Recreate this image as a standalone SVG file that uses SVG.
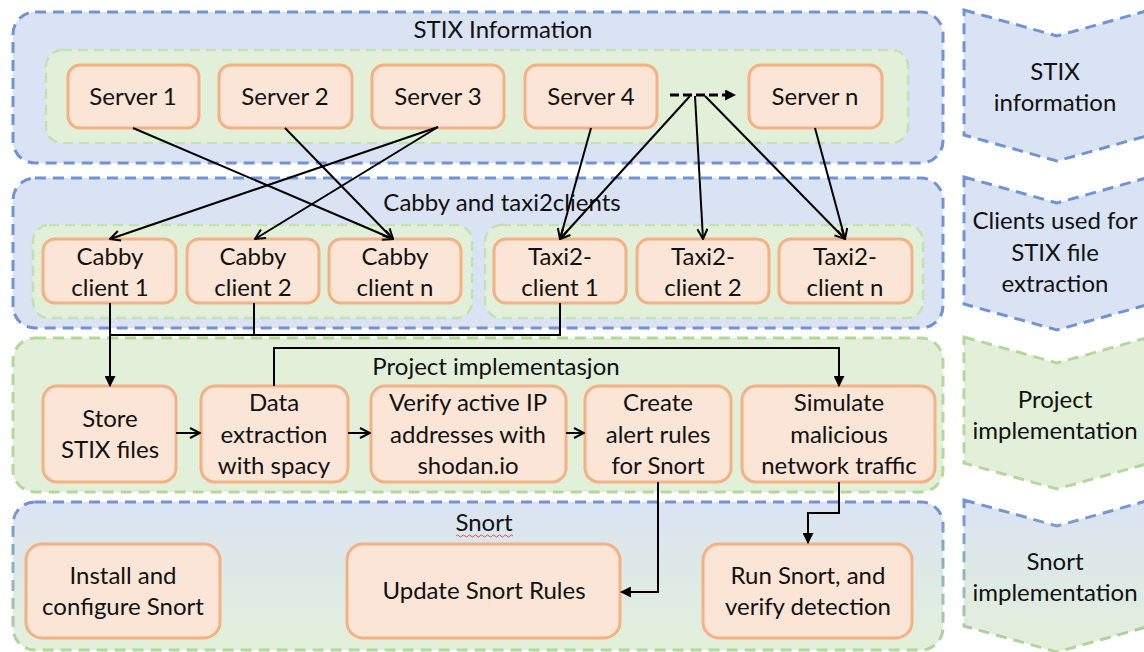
<svg xmlns="http://www.w3.org/2000/svg" width="1144" height="652" viewBox="0 0 1144 652">
<defs>
<style>
.t{font-family:Lato,"Open Sans","Liberation Sans",sans-serif;font-size:24px;fill:#111;text-anchor:middle}
.blue{fill:#dae3f3;stroke:#6f93d6;stroke-width:3;stroke-dasharray:11 7}
.green{fill:#e2f0d9;stroke:#b5d79c;stroke-width:3;stroke-dasharray:11 7}
.ing{fill:#e2f0d9;stroke:#c5e0b4;stroke-width:2.5;stroke-dasharray:10 6}
.node{fill:#fbe5d6;stroke:#f4b183;stroke-width:3}
.ln{fill:none;stroke:#000;stroke-width:2}
</style>
<linearGradient id="gfill" x1="0" y1="0" x2="0" y2="1">
<stop offset="0" stop-color="#dae3f3"/><stop offset="1" stop-color="#e2f0d9"/>
</linearGradient>
<linearGradient id="gstroke" x1="0" y1="0" x2="0" y2="1">
<stop offset="0" stop-color="#6f93d6"/><stop offset="1" stop-color="#b5d79c"/>
</linearGradient>
<marker id="open" viewBox="0 0 12 12" refX="11" refY="6" markerWidth="12" markerHeight="12" markerUnits="userSpaceOnUse" orient="auto">
<path d="M1,1 L11,6 L1,11" fill="none" stroke="#000" stroke-width="2"/>
</marker>
<marker id="tri" viewBox="0 0 10 10" refX="9" refY="5" markerWidth="11" markerHeight="11" markerUnits="userSpaceOnUse" orient="auto">
<path d="M0,0 L10,5 L0,10 z" fill="#000"/>
</marker>
</defs>
<rect width="1144" height="652" fill="#fff"/>

<!-- containers -->
<g id="stix-info">
<rect class="blue" x="13" y="12" width="930" height="151" rx="22"/>
<rect class="ing" x="46" y="50" width="862" height="93" rx="16"/>
<text class="t" x="503" y="38">STIX Information</text>
</g>
<g id="cabby-taxi">
<rect class="blue" x="13" y="178" width="930" height="150" rx="22"/>
<rect class="ing" x="33" y="225" width="439" height="93" rx="16"/>
<rect class="ing" x="485" y="225" width="438" height="93" rx="16"/>
<text class="t" x="502" y="211">Cabby and taxi2clients</text>
</g>
<g id="project">
<rect class="green" x="13" y="338" width="930" height="154" rx="22"/>
<text class="t" x="496" y="375">Project implementasjon</text>
</g>
<g id="snort">
<rect x="13" y="502" width="930" height="148" rx="22" fill="url(#gfill)" stroke="url(#gstroke)" stroke-width="3" stroke-dasharray="11 7"/>
<text class="t" x="484" y="531">Snort</text>
<path d="M456,536 q1.5,-2 3,0 t3,0 t3,0 t3,0 t3,0 t3,0 t3,0 t3,0 t3,0 t3,0 t3,0 t3,0 t3,0 t3,0 t3,0 t3,0 t3,0 t3,0 t3,0" fill="none" stroke="#e05050" stroke-width="1"/>
</g>

<!-- right chevrons -->
<g id="chev1">
<polygon class="blue" points="964,10 1057,36 1150,10 1150,135 1057,161 964,135"/>
<text class="t" x="1055" y="80">STIX</text>
<text class="t" x="1055" y="111">information</text>
</g>
<g id="chev2">
<polygon class="blue" points="964,177 1057,203 1150,177 1150,304 1057,330 964,304"/>
<text class="t" x="1055" y="229">Clients used for</text>
<text class="t" x="1055" y="261">STIX file</text>
<text class="t" x="1055" y="292">extraction</text>
</g>
<g id="chev3">
<polygon class="green" points="964,337 1057,363 1150,337 1150,463 1057,489 964,463"/>
<text class="t" x="1055" y="408">Project</text>
<text class="t" x="1055" y="439">implementation</text>
</g>
<g id="chev4">
<polygon points="964,500 1057,526 1150,500 1150,626 1057,652 964,626" fill="url(#gfill)" stroke="url(#gstroke)" stroke-width="3" stroke-dasharray="11 7"/>
<text class="t" x="1055" y="570">Snort</text>
<text class="t" x="1055" y="601">implementation</text>
</g>

<!-- servers -->
<g id="server1"><rect class="node" x="68" y="65" width="131" height="63" rx="12"/><text class="t" x="133" y="105">Server 1</text></g>
<g id="server2"><rect class="node" x="219" y="65" width="133" height="63" rx="12"/><text class="t" x="285" y="105">Server 2</text></g>
<g id="server3"><rect class="node" x="372" y="65" width="132" height="63" rx="12"/><text class="t" x="438" y="105">Server 3</text></g>
<g id="server4"><rect class="node" x="525" y="65" width="132" height="63" rx="12"/><text class="t" x="591" y="105">Server 4</text></g>
<g id="servern"><rect class="node" x="749" y="65" width="133" height="63" rx="12"/><text class="t" x="815" y="105">Server n</text></g>

<!-- clients -->
<g id="cabby1"><rect class="node" x="43" y="239" width="133" height="64" rx="12"/><text class="t" x="110" y="265">Cabby</text><text class="t" x="110" y="296">client 1</text></g>
<g id="cabby2"><rect class="node" x="187" y="239" width="132" height="64" rx="12"/><text class="t" x="253" y="265">Cabby</text><text class="t" x="253" y="296">client 2</text></g>
<g id="cabbyn"><rect class="node" x="329" y="239" width="132" height="64" rx="12"/><text class="t" x="395" y="265">Cabby</text><text class="t" x="395" y="296">client n</text></g>
<g id="taxi1"><rect class="node" x="494" y="239" width="132" height="64" rx="12"/><text class="t" x="560" y="265">Taxi2-</text><text class="t" x="560" y="296">client 1</text></g>
<g id="taxi2"><rect class="node" x="637" y="239" width="132" height="64" rx="12"/><text class="t" x="703" y="265">Taxi2-</text><text class="t" x="703" y="296">client 2</text></g>
<g id="taxin"><rect class="node" x="779" y="239" width="133" height="64" rx="12"/><text class="t" x="845" y="265">Taxi2-</text><text class="t" x="845" y="296">client n</text></g>

<!-- project row -->
<g id="store"><rect class="node" x="43" y="386" width="133" height="96" rx="14"/><text class="t" x="110" y="427">Store</text><text class="t" x="110" y="458">STIX files</text></g>
<g id="extract"><rect class="node" x="201" y="386" width="147" height="96" rx="14"/><text class="t" x="274" y="411">Data</text><text class="t" x="274" y="443">extraction</text><text class="t" x="274" y="474">with spacy</text></g>
<g id="verify"><rect class="node" x="371" y="386" width="195" height="96" rx="14"/><text class="t" x="468" y="411">Verify active IP</text><text class="t" x="468" y="443">addresses with</text><text class="t" x="468" y="474">shodan.io</text></g>
<g id="create"><rect class="node" x="585" y="386" width="146" height="96" rx="14"/><text class="t" x="658" y="411">Create</text><text class="t" x="658" y="443">alert rules</text><text class="t" x="658" y="474">for Snort</text></g>
<g id="simulate"><rect class="node" x="742" y="386" width="193" height="96" rx="14"/><text class="t" x="839" y="411">Simulate</text><text class="t" x="839" y="443">malicious</text><text class="t" x="839" y="474">network traffic</text></g>

<!-- snort row -->
<g id="install"><rect class="node" x="26" y="544" width="194" height="94" rx="16"/><text class="t" x="123" y="584">Install and</text><text class="t" x="123" y="615">configure Snort</text></g>
<g id="update"><rect class="node" x="347" y="544" width="273" height="94" rx="16"/><text class="t" x="484" y="599">Update Snort Rules</text></g>
<g id="run"><rect class="node" x="703" y="544" width="209" height="94" rx="16"/><text class="t" x="808" y="584">Run Snort, and</text><text class="t" x="808" y="615">verify detection</text></g>

<!-- connectors -->
<g id="connectors">
<path class="ln" d="M133,128 L393,239" marker-end="url(#open)"/>
<path class="ln" d="M285,128 L393,239" marker-end="url(#open)"/>
<path class="ln" d="M438,127 L110,239" marker-end="url(#open)"/>
<path class="ln" d="M438,127 L255,239" marker-end="url(#open)"/>
<path class="ln" d="M591,128 L560,239" marker-end="url(#open)"/>
<path class="ln" d="M690,96 L560,239" marker-end="url(#open)"/>
<path class="ln" d="M695,96 L703,239" marker-end="url(#open)"/>
<path class="ln" d="M705,96 L845,239" marker-end="url(#open)"/>
<path class="ln" d="M815,128 L845,239" marker-end="url(#open)"/>
<path d="M670,95 L735,95" fill="none" stroke="#000" stroke-width="3" stroke-dasharray="9 4" marker-end="url(#tri)"/>
<path class="ln" d="M110,303 L110,386" marker-end="url(#tri)"/>
<path class="ln" d="M254,303 V335 H110"/>
<path class="ln" d="M560,303 V335 H254"/>
<path class="ln" d="M274,386 V348 H839 V386" marker-end="url(#tri)"/>
<path class="ln" d="M176,433 H200" marker-end="url(#open)"/>
<path class="ln" d="M348,433 H370" marker-end="url(#open)"/>
<path class="ln" d="M566,433 H584" marker-end="url(#open)"/>
<path class="ln" d="M658,482 V592 H621" marker-end="url(#tri)"/>
<path class="ln" d="M839,482 V513 H808 V543" marker-end="url(#tri)"/>
</g>
</svg>
